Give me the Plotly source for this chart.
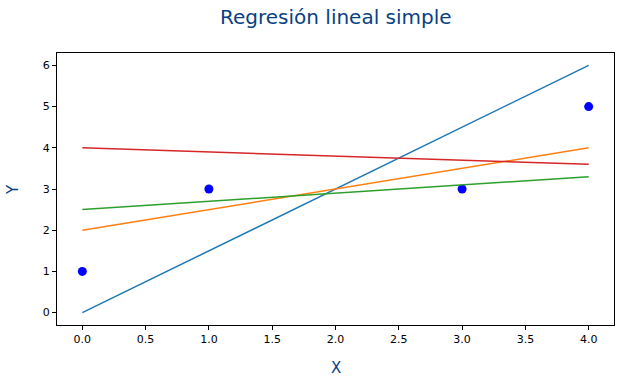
import plotly.graph_objects as go

# Data
pts_x = [0, 1, 3, 4]
pts_y = [1, 3, 3, 5]

line_x = [0, 4]
blue_y = [0, 6]
orange_y = [2, 4]
green_y = [2.5, 3.3]
red_y = [4, 3.6]

line_colors = ["#1f77b4", "#ff7f0e", "#2ca02c", "#d62728"]
x_ticks = [0.0, 0.5, 1.0, 1.5, 2.0, 2.5, 3.0, 3.5, 4.0]
y_ticks = [0, 1, 2, 3, 4, 5, 6]

fig = go.Figure()
fig.add_trace(go.Scatter(x=pts_x, y=pts_y, mode="markers",
                         marker=dict(color="#0000ff", size=9, line=dict(width=0))))
for ys, c in zip([blue_y, orange_y, green_y, red_y], line_colors):
    fig.add_trace(go.Scatter(x=line_x, y=ys, mode="lines", line=dict(color=c, width=1.5)))

font = "DejaVu Sans"
title_color = "#0a3f84"
axis_common = dict(showline=True, linecolor="black", linewidth=1, mirror=True,
                   ticks="outside", ticklen=4, tickcolor="black", showgrid=False,
                   zeroline=False, automargin=False,
                   tickfont=dict(family=font, size=11, color="black"))

W, H = 620, 384
L, R, T, B = 57, 6, 53, 59
ph = H - T - B
pw = W - L - R

fig.update_layout(
    width=W, height=H,
    margin=dict(l=L, r=R, t=T, b=B, autoexpand=False),
    plot_bgcolor="white", paper_bgcolor="white",
    showlegend=False,
    hovermode=False,
    xaxis=dict(range=[-0.2, 4.2], tickvals=x_ticks, ticktext=[f"{v:.1f}" for v in x_ticks],
               **axis_common),
    yaxis=dict(range=[-0.3, 6.3], tickvals=y_ticks, **axis_common),
    annotations=[
        dict(text="Regresión lineal simple", xref="paper", yref="paper", x=0.5,
             y=1 + (T - 17) / ph, xanchor="center", yanchor="middle", showarrow=False,
             font=dict(family=font, size=20, color=title_color)),
        dict(text="X", xref="paper", yref="paper", x=0.5, y=-(368 - (T + ph)) / ph,
             xanchor="center", yanchor="middle", showarrow=False,
             font=dict(family=font, size=15, color=title_color)),
        dict(text="Y", xref="paper", yref="paper", x=-(L - 13) / pw, y=(H - B - 190) / ph,
             xanchor="center", yanchor="middle", showarrow=False, textangle=-90,
             font=dict(family=font, size=15, color=title_color)),
    ],
)
fig.write_html("out.html", config={"displayModeBar": False, "staticPlot": True},
               post_script="document.body.style.margin='0';document.body.style.overflow='hidden';")
